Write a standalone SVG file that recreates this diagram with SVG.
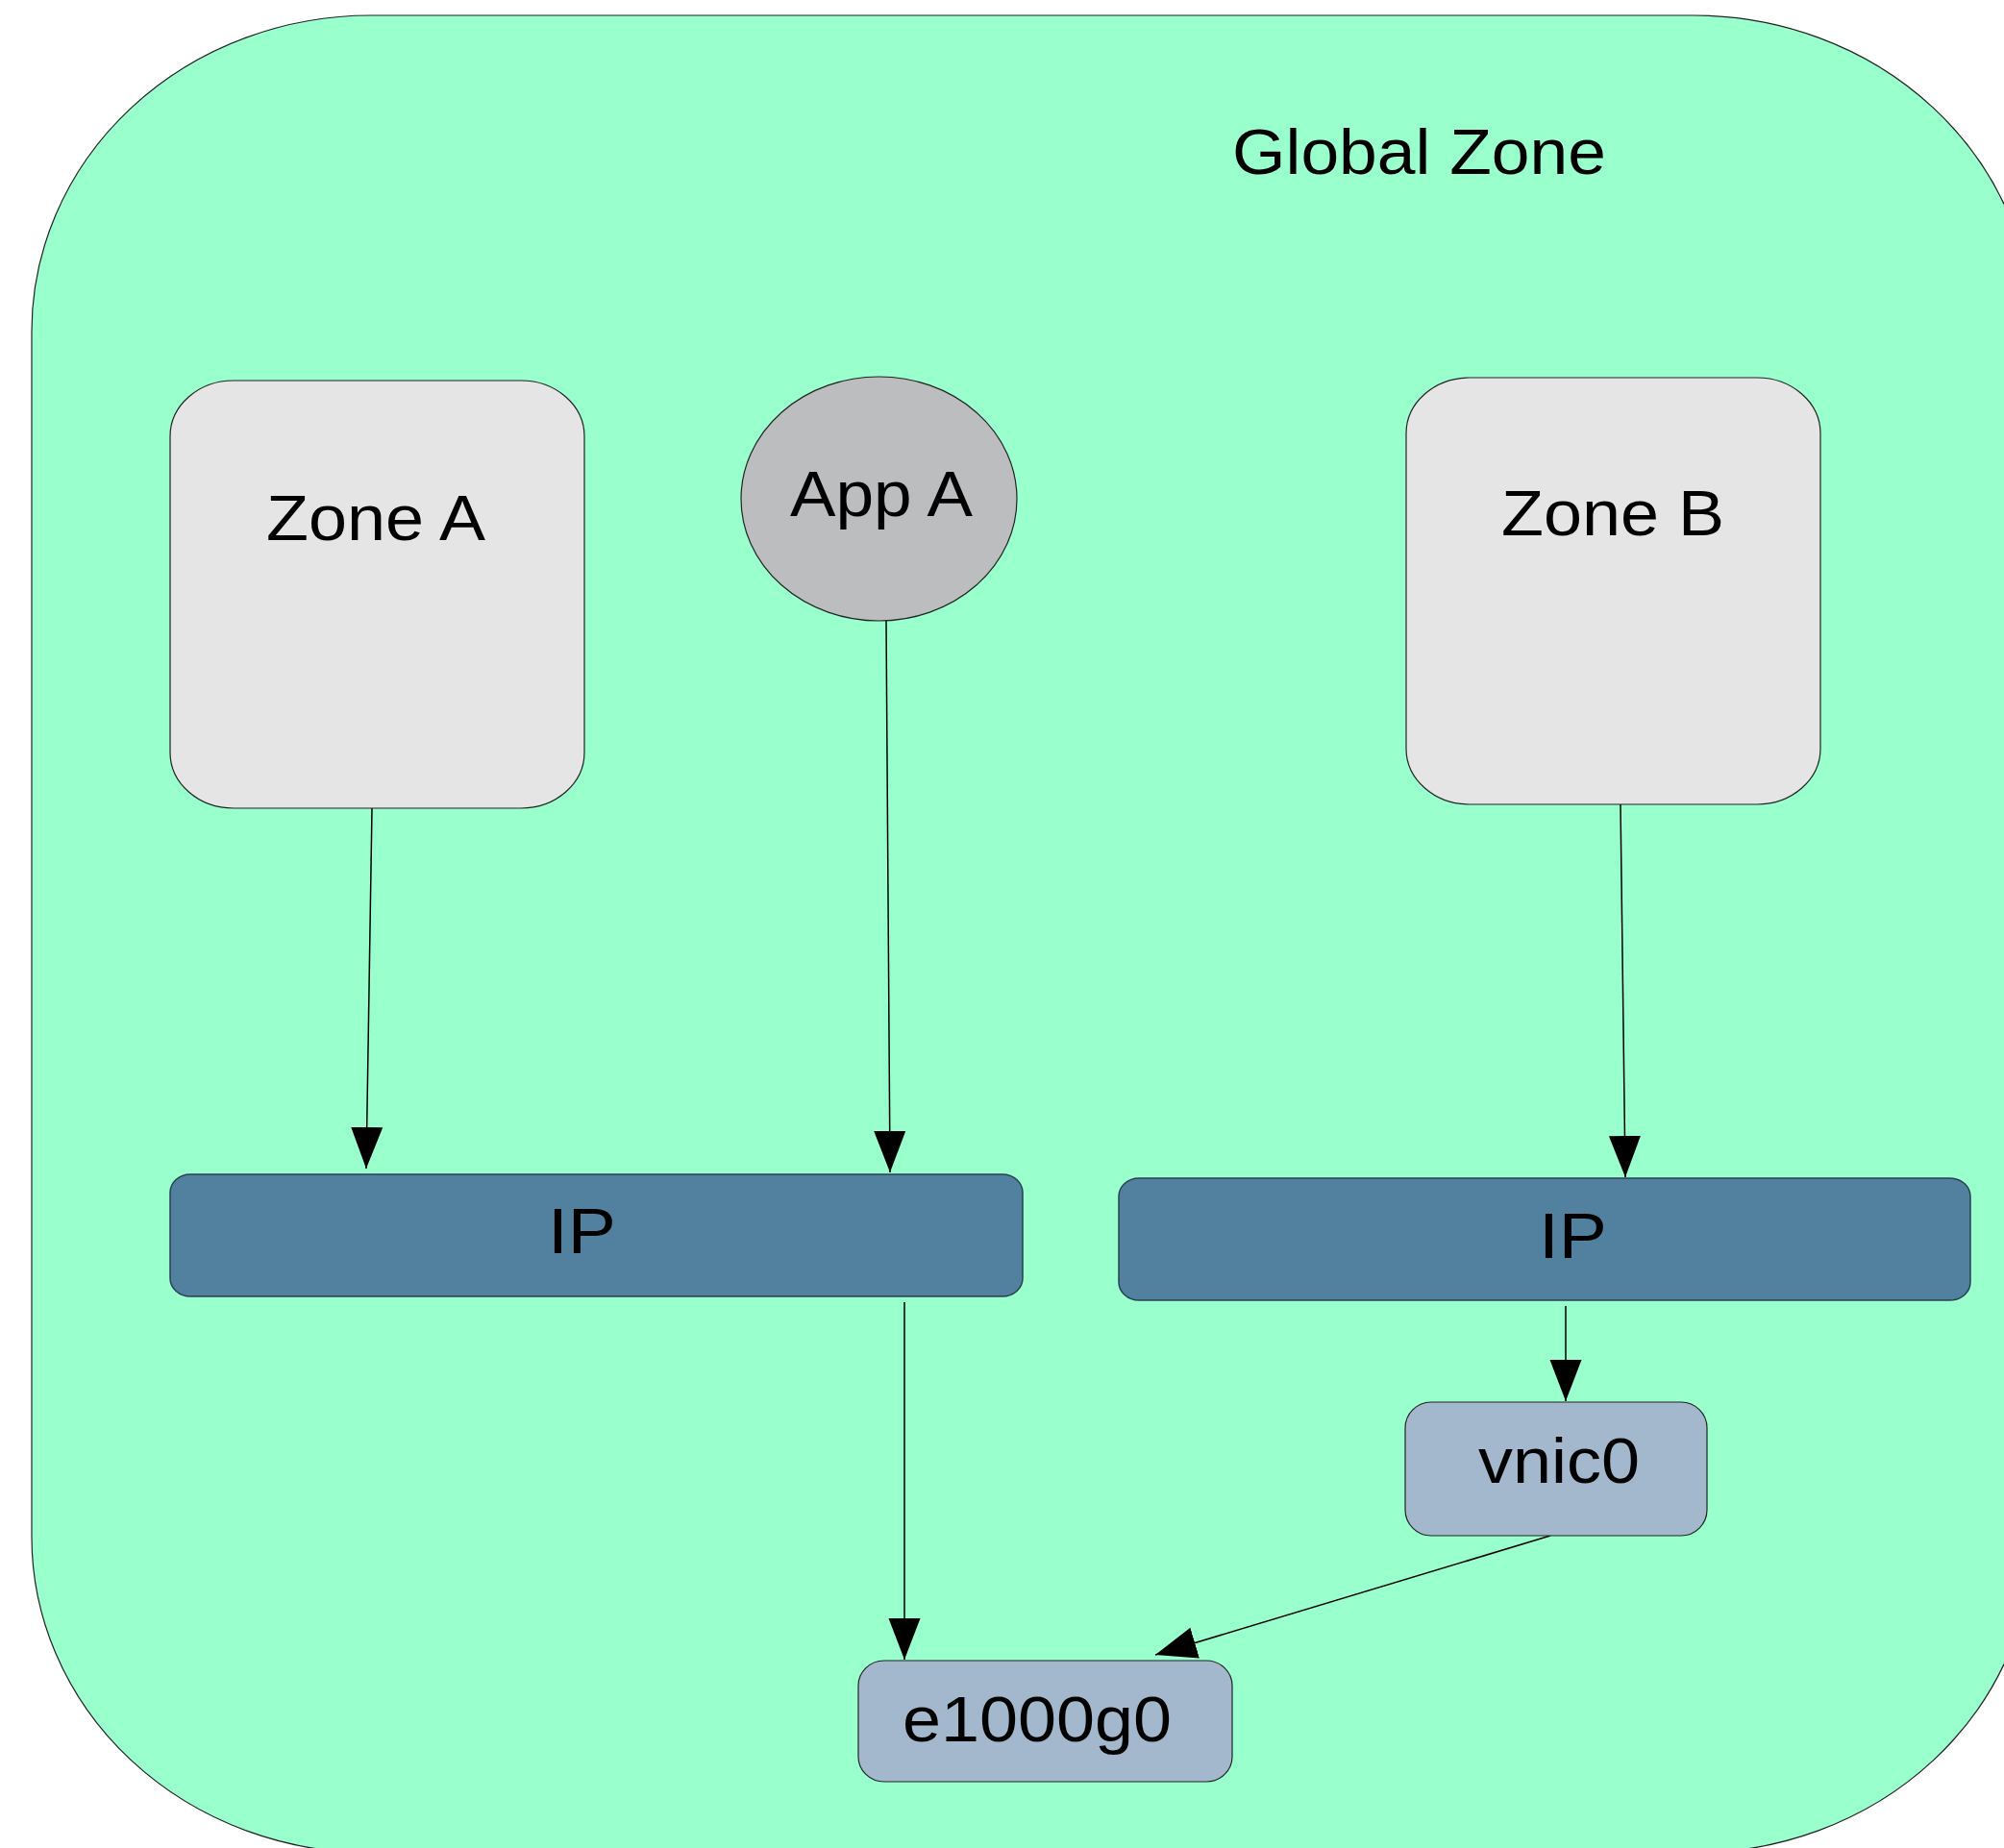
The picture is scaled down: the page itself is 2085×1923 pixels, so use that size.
<svg xmlns="http://www.w3.org/2000/svg" width="2085" height="1923" viewBox="0 0 2085 1923">
<style>
text{font-family:"Liberation Sans",Arial,sans-serif;font-size:67px;fill:#000}
.zone{fill:#e5e5e5;stroke:#222;stroke-width:1.2}
.ip{fill:#52809f;stroke:#2a3f50;stroke-width:1.5}
.nic{fill:#a3b8cc;stroke:#222;stroke-width:1.2}
.edge{fill:none;stroke:#000;stroke-width:1.5}
</style>
<defs>
<marker id="arr" markerUnits="userSpaceOnUse" markerWidth="44" markerHeight="34" refX="43" refY="16.5" orient="auto" viewBox="0 0 44 34">
<path d="M0,0 L43,16.5 L0,33 Z" fill="#000"/>
</marker>
</defs>
<rect width="2085" height="1923" fill="#fff"/>
<g id="global-zone">
<rect x="33" y="16" width="2082" height="1912" rx="353" ry="329" fill="#99ffcc" stroke="#222" stroke-width="1.2"/>
<text x="1282" y="181" textLength="389" lengthAdjust="spacingAndGlyphs">Global Zone</text>
</g>
<g id="connectors">
<line class="edge" x1="387" y1="841" x2="381" y2="1216" marker-end="url(#arr)"/>
<line class="edge" x1="922" y1="646" x2="926" y2="1220" marker-end="url(#arr)"/>
<line class="edge" x1="1686" y1="837" x2="1691" y2="1225" marker-end="url(#arr)"/>
<line class="edge" x1="1629" y1="1359" x2="1629" y2="1458" marker-end="url(#arr)"/>
<line class="edge" x1="941" y1="1355" x2="941" y2="1727" marker-end="url(#arr)"/>
<line class="edge" x1="1613" y1="1598" x2="1202" y2="1722" marker-end="url(#arr)"/>
</g>
<g id="zone-a">
<rect class="zone" x="177" y="396" width="431" height="445" rx="66" ry="58"/>
<text x="277" y="562" textLength="228" lengthAdjust="spacingAndGlyphs">Zone A</text>
</g>
<g id="app-a">
<ellipse cx="914.5" cy="519" rx="143.5" ry="127" fill="#bcbdbf" stroke="#222" stroke-width="1.2"/>
<text x="822" y="537" textLength="190" lengthAdjust="spacingAndGlyphs">App A</text>
</g>
<g id="zone-b">
<rect class="zone" x="1463" y="393" width="431" height="444" rx="66" ry="58"/>
<text x="1562" y="557" textLength="232" lengthAdjust="spacingAndGlyphs">Zone B</text>
</g>
<g id="ip-a">
<rect class="ip" x="177" y="1222" width="887" height="127" rx="21" ry="19"/>
<text x="570" y="1304" textLength="71" lengthAdjust="spacingAndGlyphs">IP</text>
</g>
<g id="ip-b">
<rect class="ip" x="1164" y="1226" width="886" height="127" rx="21" ry="19"/>
<text x="1601" y="1309" textLength="71" lengthAdjust="spacingAndGlyphs">IP</text>
</g>
<g id="vnic0">
<rect class="nic" x="1462" y="1459" width="314" height="139" rx="27" ry="27"/>
<text x="1538" y="1543" textLength="168" lengthAdjust="spacingAndGlyphs">vnic0</text>
</g>
<g id="e1000g0">
<rect class="nic" x="893" y="1728" width="389" height="126" rx="27" ry="26"/>
<text x="939" y="1812" textLength="280" lengthAdjust="spacingAndGlyphs">e1000g0</text>
</g>
</svg>
